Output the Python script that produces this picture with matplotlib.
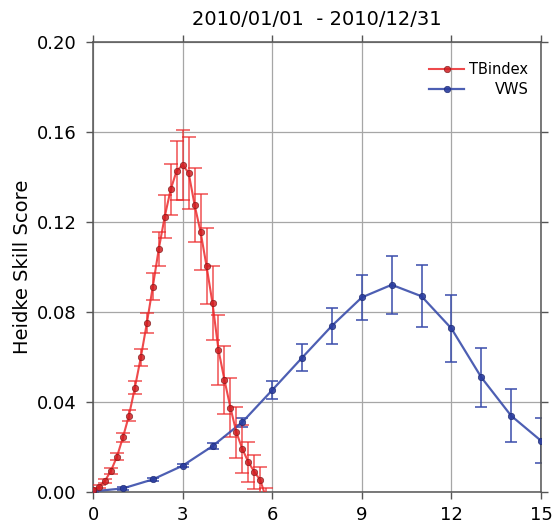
import matplotlib
matplotlib.use("Agg")
import matplotlib.pyplot as plt
from matplotlib.transforms import Affine2D
from matplotlib.ticker import FormatStrFormatter
import numpy as np

plt.rcParams["font.family"] = ["DejaVu Sans"]

TITLE = "2010/01/01  - 2010/12/31"

# TBindex: threshold step 0.2
tb_x = [0.0, 0.2, 0.4, 0.6, 0.8, 1.0, 1.2, 1.4, 1.6, 1.8, 2.0, 2.2, 2.4, 2.6, 2.8,
        3.0, 3.2, 3.4, 3.6, 3.8, 4.0, 4.2, 4.4, 4.6, 4.8, 5.0, 5.2, 5.4, 5.6, 5.8]
tb_y = [0.0009, 0.0024, 0.0050, 0.0095, 0.0157, 0.0243, 0.0339, 0.0464, 0.0599, 0.0750,
        0.0912, 0.1080, 0.1224, 0.1345, 0.1428, 0.1453, 0.1419, 0.1276, 0.1156, 0.1004,
        0.0839, 0.0631, 0.0498, 0.0375, 0.0265, 0.0191, 0.0133, 0.0090, 0.0053, -0.0030]
tb_err = [0.0005, 0.0008, 0.0010, 0.0013, 0.0015, 0.0020, 0.0025, 0.0030, 0.0037, 0.0045,
          0.0060, 0.0075, 0.0095, 0.0115, 0.0130, 0.0155, 0.0160, 0.0165, 0.0170, 0.0170,
          0.0165, 0.0155, 0.0150, 0.0130, 0.0115, 0.0105, 0.0090, 0.0075, 0.0060, 0.0050]

# VWS: threshold step 1
vws_x = [0, 1, 2, 3, 4, 5, 6, 7, 8, 9, 10, 11, 12, 13, 14, 15]
vws_y = [0.0003, 0.0016, 0.0056, 0.0117, 0.0204, 0.0311, 0.0453, 0.0597, 0.0739, 0.0865,
         0.0921, 0.0870, 0.0727, 0.0510, 0.0339, 0.0228]
vws_err = [0.0002, 0.0005, 0.0006, 0.0008, 0.0012, 0.0020, 0.0040, 0.0060, 0.0080, 0.0100,
           0.0128, 0.0138, 0.0147, 0.0131, 0.0117, 0.0100]

RED = "#ec2a2c"
BLUE = "#3a4dab"
AXIS_GREY = "#555555"

fig = plt.figure(figsize=(5.54, 5.26), dpi=100)
ax = fig.add_axes([0.168, 0.0646, 0.8085, 0.8555])

# error bars drawn separately so the legend shows only line + marker
ax.errorbar(tb_x, tb_y, yerr=tb_err, fmt="none", ecolor=RED, elinewidth=1.2,
            capsize=4.7, capthick=1.2, alpha=0.75, zorder=3)
ax.errorbar(vws_x, vws_y, yerr=vws_err, fmt="none", ecolor=BLUE, elinewidth=1.3,
            capsize=4.3, capthick=1.3, alpha=0.85, zorder=2)
ax.plot(tb_x, tb_y, color=RED, lw=1.5, alpha=0.85, zorder=4, label="TBindex",
        marker="o", ms=4.6, mfc="#d01e22", mec="#7a1616", mew=0.5)
ax.plot(vws_x, vws_y, color=BLUE, lw=1.6, alpha=0.9, zorder=3, label="VWS",
        marker="o", ms=4.6, mfc="#2a3c9e", mec="#1a2870", mew=0.5)

ax.set_xlim(0, 15)
ax.set_ylim(0, 0.2)
ax.set_xticks(np.arange(0, 16, 3))
ax.set_yticks(np.arange(0, 0.201, 0.04))
ax.yaxis.set_major_formatter(FormatStrFormatter("%.2f"))
ax.grid(True, color="#a6a6a6", lw=0.9)
ax.set_axisbelow(True)
ax.tick_params(direction="out", top=True, right=True, labelsize=13, length=5,
               width=1, color=AXIS_GREY, labelcolor="black")
ax.tick_params(axis="y", pad=7)
ax.tick_params(axis="x", pad=5)
for s in ax.spines.values():
    s.set_linewidth(1.1)
    s.set_color(AXIS_GREY)

ax.set_ylabel("Heidke Skill Score", fontsize=14, labelpad=3)
ax.set_title(TITLE, fontsize=14, pad=12)

leg = ax.legend(loc="upper right", bbox_to_anchor=(1.016, 1.0), frameon=False,
                fontsize=10.5, handlelength=2.4, handletextpad=0.35,
                labelspacing=0.35, borderaxespad=0.6, borderpad=0.75)

# right-align the legend labels
fig.canvas.draw()
renderer = fig.canvas.get_renderer()
texts = leg.get_texts()
widths = [t.get_window_extent(renderer).width for t in texts]
wmax = max(widths)
for t, w in zip(texts, widths):
    t.set_transform(t.get_transform() + Affine2D().translate(wmax - w, 0))

fig.savefig("out.png", dpi=100)
